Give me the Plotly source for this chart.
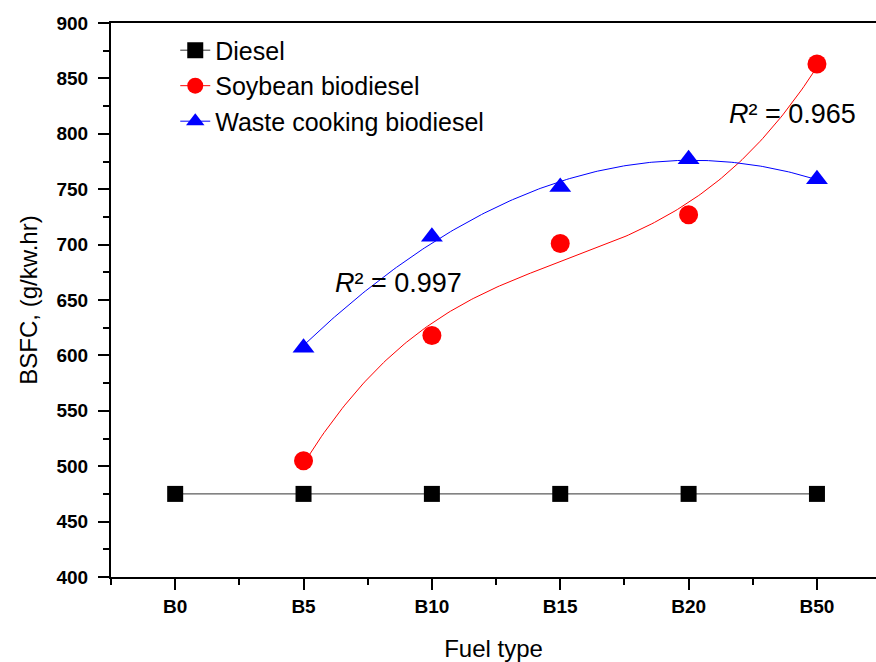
import numpy as np
import plotly.graph_objects as go

# Fuel blends and measured BSFC (g/kW.hr)
fuel_types = ["B0", "B5", "B10", "B15", "B20", "B50"]
diesel = [475, 475, 475, 475, 475, 475]
soybean = [505, 618, 701, 727, 863]          # B5..B50
waste_cooking = [607, 707, 752, 777, 759]    # B5..B50
blend_pos = [1, 2, 3, 4, 5]

# Polynomial trend lines through the biodiesel points
xs = np.linspace(1, 5, 200)
soy_fit = np.polyval(np.polyfit(blend_pos, soybean, 3), xs)
wco_fit = np.polyval(np.polyfit(blend_pos, waste_cooking, 2), xs)

fig = go.Figure()

fig.add_trace(go.Scatter(
    x=list(range(len(fuel_types))), y=diesel, mode="lines+markers",
    name="Diesel", line=dict(color="#333333", width=1),
    marker=dict(symbol="square", size=16, color="black"),
))
fig.add_trace(go.Scatter(
    x=blend_pos, y=soybean, mode="markers", name="Soybean biodiesel",
    marker=dict(symbol="circle", size=19, color="#ff0000"), showlegend=False,
))
fig.add_trace(go.Scatter(
    x=xs, y=soy_fit, mode="lines", line=dict(color="#ff0000", width=1),
    showlegend=False, hoverinfo="skip",
))
fig.add_trace(go.Scatter(
    x=blend_pos, y=waste_cooking, mode="markers", name="Waste cooking biodiesel",
    marker=dict(symbol="triangle-up", size=19, color="#0000ff"), showlegend=False,
))
fig.add_trace(go.Scatter(
    x=xs, y=wco_fit, mode="lines", line=dict(color="#0000ff", width=1),
    showlegend=False, hoverinfo="skip",
))

# Legend entries (line + marker symbols)
fig.add_trace(go.Scatter(
    x=[None], y=[None], mode="lines+markers", name="Soybean biodiesel",
    line=dict(color="#ff0000", width=1),
    marker=dict(symbol="circle", size=19, color="#ff0000"),
))
fig.add_trace(go.Scatter(
    x=[None], y=[None], mode="lines+markers", name="Waste cooking biodiesel",
    line=dict(color="#0000ff", width=1),
    marker=dict(symbol="triangle-up", size=19, color="#0000ff"),
))

fig.add_annotation(x=4.81, y=818, xref="x", yref="y",
                   text="<i>R</i>² = 0.965", showarrow=False,
                   font=dict(size=27, color="black"), xanchor="center")
fig.add_annotation(x=1.74, y=665, xref="x", yref="y",
                   text="<i>R</i>² = 0.997", showarrow=False,
                   font=dict(size=27, color="black"), xanchor="center")

fig.update_layout(
    width=876, height=662,
    margin=dict(l=111, r=0, t=23, b=85),
    paper_bgcolor="white", plot_bgcolor="white",
    font=dict(family="Liberation Sans, Arial, sans-serif", color="black"),
    showlegend=True,
    legend=dict(x=0.084, y=0.992, xanchor="left", yanchor="top",
                font=dict(size=25), bgcolor="rgba(0,0,0,0)",
                tracegroupgap=0),
)

fig.update_xaxes(
    range=[-0.5, 5.46], tickmode="array",
    tickvals=list(range(len(fuel_types))), ticktext=fuel_types,
    ticks="outside", ticklen=11, tickwidth=2, tickcolor="black",
    showline=True, linecolor="black", linewidth=2, mirror=True,
    showgrid=False, zeroline=False,
    tickfont=dict(size=19, family="Liberation Sans, Arial", weight="bold"),
    minor=dict(tickmode="array", tickvals=[-0.5, 0.5, 1.5, 2.5, 3.5, 4.5],
               ticks="outside", ticklen=6, tickwidth=2, tickcolor="black",
               showgrid=False),
    title=dict(text="Fuel type", font=dict(size=24), standoff=27),
)
fig.update_yaxes(
    range=[400, 900], tickmode="linear", tick0=400, dtick=50,
    ticks="outside", ticklen=11, tickwidth=2, tickcolor="black",
    showline=True, linecolor="black", linewidth=2, mirror=False,
    showgrid=False, zeroline=False, ticklabelstandoff=6,
    tickfont=dict(size=19, family="Liberation Sans, Arial", weight="bold"),
    minor=dict(tickmode="linear", tick0=425, dtick=50, ticks="outside",
               ticklen=6, tickwidth=2, tickcolor="black", showgrid=False),
    title=dict(text="BSFC, (g/kw.hr)", font=dict(size=24), standoff=12),
)

fig.write_html("out.html")
